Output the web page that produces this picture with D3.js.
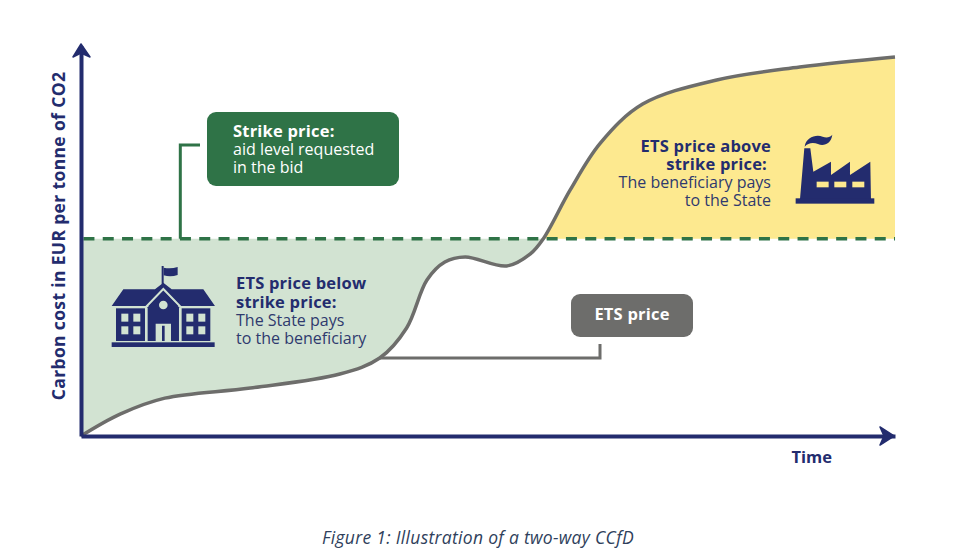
<!DOCTYPE html>
<html>
<head>
<meta charset="utf-8">
<script src="https://cdn.jsdelivr.net/npm/d3@7"></script>
<style>
  html, body { margin: 0; padding: 0; background: #fff; }
  text { font-family: "Open Sans", "Noto Sans", sans-serif; }
</style>
</head>
<body>
<svg id="chart" width="975" height="556"></svg>
<script>
// Values, both axes are unitless 0-100
var timeValues = [0, 4.8, 10.3, 20.8, 31.8, 36.7, 40, 42.5, 44.7, 47.2, 52.3, 55.2, 56.8, 60.1, 63.8, 69, 78.1, 88.3, 100];
var etsPrice = [0, 5.6, 9.7, 12.3, 15.9, 20, 27.7, 40, 44.6, 45.9, 43.6, 46.7, 50.6, 63.1, 75.1, 85.1, 91.3, 94.6, 97.2];
var strikePrice = 50.6;
var crossTime = 56.8;

var navy = '#232c6e', navyText = '#2f3a6e';
var green = '#2f7347', greenFill = '#d2e3d2';
var yellowFill = '#fde98f';
var grey = '#6d6d6b';

var svg = d3.select('#chart');

var x = d3.scaleLinear().domain([0, 100]).range([81, 895]);
var y = d3.scaleLinear().domain([0, 100]).range([436, 46]);

var points = timeValues.map(function(t, i) { return { t: t, v: etsPrice[i] }; });

var area = d3.area()
  .x(function(d) { return x(d.t); })
  .y0(y(strikePrice))
  .y1(function(d) { return y(d.v); })
  .curve(d3.curveCatmullRom.alpha(0.5));

var line = d3.line()
  .x(function(d) { return x(d.t); })
  .y(function(d) { return y(d.v); })
  .curve(d3.curveCatmullRom.alpha(0.5));

// Filled regions either side of the crossing
svg.append('path')
  .attr('d', area(points.filter(function(d) { return d.t <= crossTime; })))
  .attr('fill', greenFill);
svg.append('path')
  .attr('d', area(points.filter(function(d) { return d.t >= crossTime; })))
  .attr('fill', yellowFill);

// Leader lines
svg.append('path')
  .attr('d', 'M' + x(12.2) + ',' + y(strikePrice) + 'V145H200')
  .attr('fill', 'none').attr('stroke', green).attr('stroke-width', 3);
svg.append('path')
  .attr('d', 'M' + x(36.7) + ',358H600V344')
  .attr('fill', 'none').attr('stroke', grey).attr('stroke-width', 3);

// Strike line
svg.append('line')
  .attr('x1', x(0.3)).attr('x2', x(100))
  .attr('y1', y(strikePrice)).attr('y2', y(strikePrice))
  .attr('stroke', green).attr('stroke-width', 3.5)
  .attr('stroke-dasharray', '11 8.3');

// ETS price curve
svg.append('path')
  .attr('d', line(points))
  .attr('fill', 'none').attr('stroke', grey).attr('stroke-width', 3.5);

// Axes, no ticks on this one
var yAxis = d3.axisLeft(y).tickValues([]).tickSizeOuter(0);
var xAxis = d3.axisBottom(x).tickValues([]).tickSizeOuter(0);
var gy = svg.append('g').attr('transform', 'translate(' + x(0) + ',0)').call(yAxis);
var gx = svg.append('g').attr('transform', 'translate(0,' + y(0) + ')').call(xAxis);
svg.selectAll('.domain').attr('stroke', navy).attr('stroke-width', 4);
svg.append('path').attr('d', 'M73,57 L81,44 L90,57 L81,53 Z').attr('fill', navy).attr('stroke', navy).attr('stroke-width', 1.5).attr('stroke-linejoin', 'round');
svg.append('path').attr('d', 'M880,427 L894,436 L880,445 L884,436 Z').attr('fill', navy).attr('stroke', navy).attr('stroke-width', 1.5).attr('stroke-linejoin', 'round');

// Axis titles
svg.append('text')
  .attr('transform', 'translate(65,236) rotate(-90)')
  .attr('text-anchor', 'middle')
  .attr('fill', navy).style('font-weight', 700).style('font-size', '17.5px').style('letter-spacing', '0.35px')
  .text('Carbon cost in EUR per tonne of CO2');
svg.append('text')
  .attr('x', 832).attr('y', 463).attr('text-anchor', 'end')
  .attr('fill', navy).style('font-weight', 700).style('font-size', '16.5px')
  .text('Time');

// Callout boxes
svg.append('rect').attr('x', 207).attr('y', 112).attr('width', 192).attr('height', 74).attr('rx', 9).attr('fill', green);
svg.append('rect').attr('x', 571).attr('y', 294).attr('width', 122).attr('height', 43).attr('rx', 9).attr('fill', grey);

// One text block per callout, rows are [x, y, string, bold]
function block(rows, fillBold, fillReg, anchor) {
  var t = svg.append('text').attr('text-anchor', anchor || 'start');
  rows.forEach(function(r) {
    t.append('tspan')
      .attr('x', r[0]).attr('y', r[1])
      .attr('fill', r[3] ? fillBold : fillReg)
      .style('font-size', r[3] ? '16.5px' : '16px')
      .style('font-weight', r[3] ? 700 : 400)
      .style('letter-spacing', r[3] ? '0.2px' : '0')
      .text(r[2]);
  });
}

block([[233, 137, 'Strike price:', true], [233, 155, 'aid level requested', false], [233, 173, 'in the bid', false]], '#fff', '#fff');
block([[632, 320, 'ETS price', true]], '#fff', '#fff', 'middle');
block([[236, 289, 'ETS price below', true], [236, 308, 'strike price:', true], [236, 326, 'The State pays', false], [236, 344, 'to the beneficiary', false]], navy, navyText);
block([[771, 152, 'ETS price above', true], [767, 170, 'strike price:', true], [771, 188, 'The beneficiary pays', false], [771, 206, 'to the State', false]], navy, navyText, 'end');

// Caption
svg.append('text')
  .attr('x', 478).attr('y', 544).attr('text-anchor', 'middle')
  .attr('fill', '#2f3f5c').style('font-style', 'italic').style('font-size', '17.5px').style('letter-spacing', '0.3px')
  .text('Figure 1: Illustration of a two-way CCfD');

// School icon, drawn at 3x and scaled down
var school = svg.append('g').attr('transform', 'translate(60,220) scale(0.3333)').attr('fill', navy);
school.append('rect').attr('x', 305).attr('y', 138).attr('width', 6).attr('height', 55);
school.append('path').attr('d', 'M311,143 Q332,148 353,141 L353,165 Q332,172 311,166 Z');
school.append('path').attr('d', 'M155,258 L190,208 L285,208 L310,188 L335,208 L430,208 L465,258 Z');
school.append('path').attr('d', 'M255,264 L310,207 L365,264').attr('fill', 'none').attr('stroke', greenFill).attr('stroke-width', 6);
school.append('path').attr('d', 'M263,262 L310,214 L357,262 L357,363 L263,363 Z');
school.append('rect').attr('x', 168).attr('y', 265).attr('width', 87).attr('height', 98);
school.append('rect').attr('x', 365).attr('y', 265).attr('width', 86).attr('height', 98);
school.append('rect').attr('x', 155).attr('y', 367).attr('width', 309).attr('height', 14);
school.append('circle').attr('cx', 310).attr('cy', 255).attr('r', 13).attr('fill', greenFill);
school.append('path').attr('d', 'M287,365 V311 H333 V365 H314 V317 H306 V365 Z').attr('fill', greenFill);
[[184, 281], [220, 281], [184, 319], [220, 319], [379, 281], [415, 281], [379, 319], [415, 319]].forEach(function(w) {
  school.append('rect').attr('x', w[0]).attr('y', w[1]).attr('width', 21).attr('height', 24).attr('fill', greenFill);
});

// Factory icon
var factory = svg.append('g').attr('transform', 'translate(600,40) scale(0.3333)').attr('fill', navy);
factory.append('path').attr('d', 'M600,478 L613,325 L631,325 L640,395 L693,365 L693,405 L750,365 L750,405 L811,365 L813,478 Z');
factory.append('rect').attr('x', 587).attr('y', 475).attr('width', 236).attr('height', 16);
factory.append('path').attr('d', 'M614,320 C618,292 648,282 668,290 C680,295 690,292 697,284 C694,310 672,320 654,312 C640,306 624,308 614,320 Z');
[650, 703, 757].forEach(function(wx) {
  factory.append('rect').attr('x', wx).attr('y', 425).attr('width', 36).attr('height', 17).attr('fill', yellowFill);
});
</script>
</body>
</html>
